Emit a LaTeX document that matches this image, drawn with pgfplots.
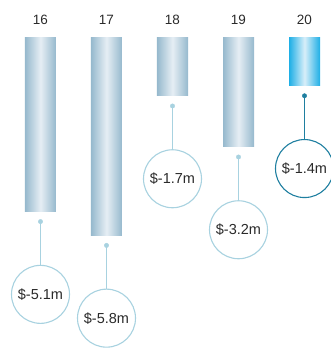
\documentclass[border=0pt]{standalone}
\usepackage{pgfplots}
\pgfplotsset{compat=1.18}
\usepackage{pgfplotstable}
\usepackage{fontspec}
\setmainfont{Liberation Sans}
\definecolor{edgeA}{HTML}{96B9CD}
\definecolor{midA}{HTML}{E6EEF4}
\definecolor{edgeB}{HTML}{1EAFE6}
\definecolor{midB}{HTML}{D8EEF9}
\definecolor{lineA}{HTML}{A8D2E0}
\definecolor{lineB}{HTML}{1F7FA0}
\definecolor{txt}{HTML}{2A2A2A}
\pgfplotstableread{
x v lab
0 -5.1 -5.1
1 -5.8 -5.8
2 -1.7 -1.7
3 -3.2 -3.2
}\grey
\pgfplotstableread{
x v lab
4 -1.4 -1.4
}\blue
\pgfplotsset{greybar/.style={ybar, bar width=31pt, bar shift=0pt, draw=none, left color=edgeA, right color=edgeA, middle color=midA}}
\begin{document}
\begin{tikzpicture}
\begin{axis}[
  at={(0,0)}, anchor=south west,
  scale only axis, width=331pt, height=351pt,
  xmin=-0.6136, xmax=4.4015, ymin=-9.206, ymax=1.1176,
  axis line style={draw=none}, tick style={draw=none},
  ytick=\empty, xtick={0,1,2,3,4}, xticklabels={16,17,18,19,20},
  xticklabel pos=upper,
  xticklabel style={anchor=center, yshift=-20pt, font=\fontsize{13.5}{15}\selectfont, text=txt},
  clip=true,
]
\addplot[greybar, restrict x to domain=-0.2:0.2] table[x=x,y=v] {\grey};
\addplot[greybar, restrict x to domain=0.8:1.2] table[x=x,y=v] {\grey};
\addplot[greybar, restrict x to domain=1.8:2.2] table[x=x,y=v] {\grey};
\addplot[greybar, restrict x to domain=2.8:3.2] table[x=x,y=v] {\grey};
\addplot[ybar, bar width=31pt, bar shift=0pt, draw=none, left color=edgeB, right color=edgeB, middle color=midB] table[x=x,y=v] {\blue};
\addplot[only marks, mark=*, mark size=2.2pt, color=lineA,
  error bars/.cd, y dir=minus, y fixed=1.27, error mark=none, error bar style={line width=1.2pt, color=lineA}]
  table[x=x, y expr=\thisrow{v}-0.3] {\grey};
\addplot[only marks, mark=*, mark size=2.2pt, color=lineB,
  error bars/.cd, y dir=minus, y fixed=1.27, error mark=none, error bar style={line width=1.2pt, color=lineB}]
  table[x=x, y expr=\thisrow{v}-0.3] {\blue};
\addplot[draw=none, mark=none, point meta=explicit symbolic,
  nodes near coords={\$\pgfplotspointmeta m},
  every node near coord/.style={anchor=center, circle, draw=lineA, line width=1.1pt, fill=white, minimum size=58pt, inner sep=0pt, text=txt, font=\fontsize{14.5}{16}\selectfont}]
  table[x=x, y expr=\thisrow{v}-2.44, meta=lab] {\grey};
\addplot[draw=none, mark=none, point meta=explicit symbolic,
  nodes near coords={\$\pgfplotspointmeta m},
  every node near coord/.style={anchor=center, circle, draw=lineB, line width=1.1pt, fill=white, minimum size=58pt, inner sep=0pt, text=txt, font=\fontsize{14.5}{16}\selectfont}]
  table[x=x, y expr=\thisrow{v}-2.44, meta=lab] {\blue};
\end{axis}
\pgfresetboundingbox
\useasboundingbox (0,0) rectangle (331pt,351pt);
\end{tikzpicture}
\end{document}
